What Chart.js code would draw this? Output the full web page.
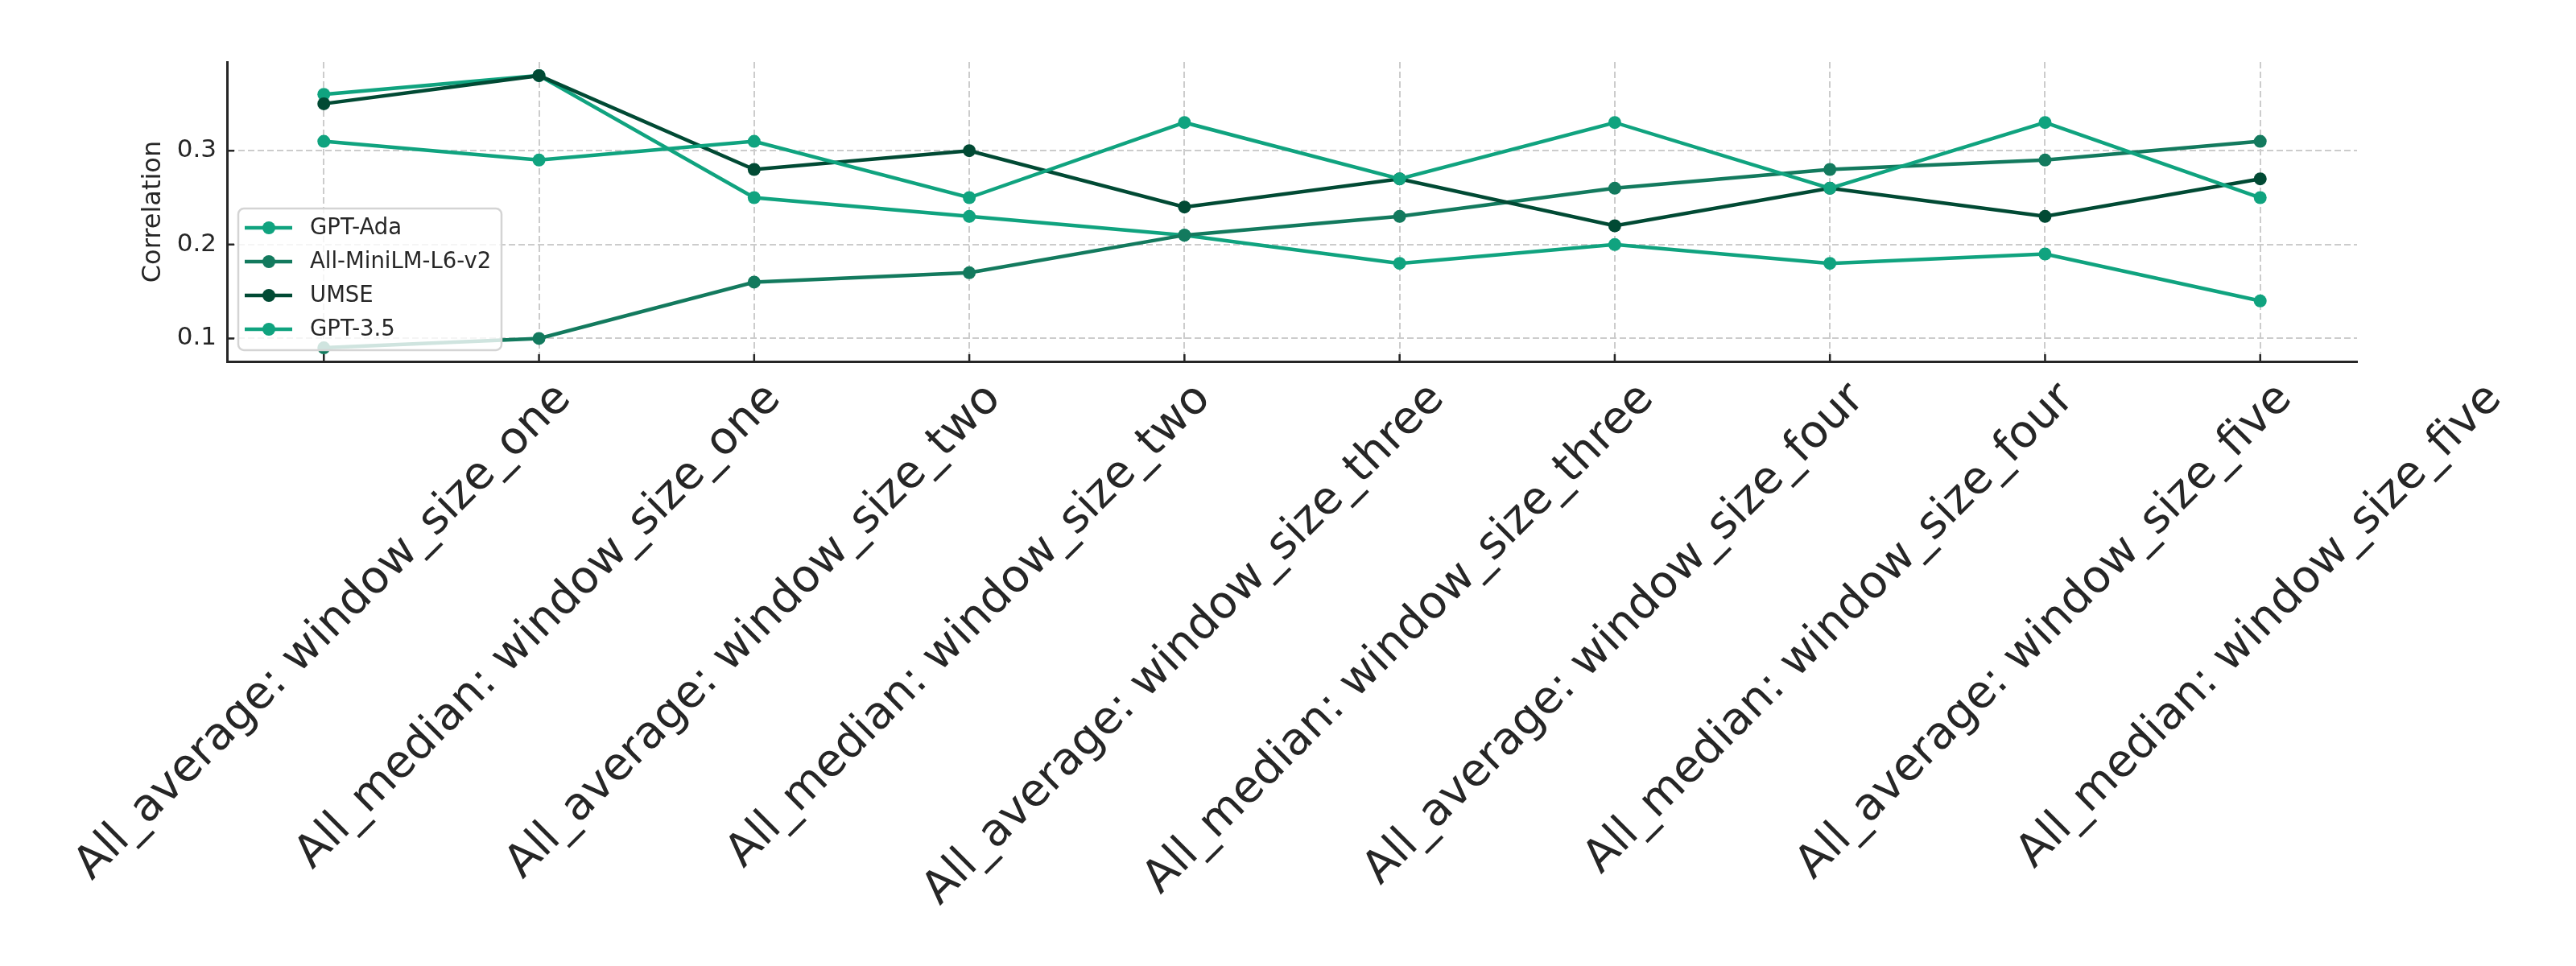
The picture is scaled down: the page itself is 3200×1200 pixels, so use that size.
<!DOCTYPE html>
<html>
<head>
<meta charset="utf-8">
<script src="https://cdn.jsdelivr.net/npm/chart.js@4.4.0/dist/chart.umd.min.js"></script>
<style>
  html, body { margin: 0; padding: 0; background: #fff; }
  #wrap { width: 3200px; height: 1200px; }
</style>
</head>
<body>
<div id="wrap"><canvas id="chart" width="3200" height="1200"></canvas></div>
<script>
const categories = [
  "All_average: window_size_one",
  "All_median: window_size_one",
  "All_average: window_size_two",
  "All_median: window_size_two",
  "All_average: window_size_three",
  "All_median: window_size_three",
  "All_average: window_size_four",
  "All_median: window_size_four",
  "All_average: window_size_five",
  "All_median: window_size_five"
];

const gptAda = [0.36, 0.38, 0.25, 0.23, 0.21, 0.18, 0.20, 0.18, 0.19, 0.14];
const miniLM = [0.09, 0.10, 0.16, 0.17, 0.21, 0.23, 0.26, 0.28, 0.29, 0.31];
const umse = [0.35, 0.38, 0.28, 0.30, 0.24, 0.27, 0.22, 0.26, 0.23, 0.27];
const gpt35 = [0.31, 0.29, 0.31, 0.25, 0.33, 0.27, 0.33, 0.26, 0.33, 0.25];

const seriesNames = ["GPT-Ada", "All-MiniLM-L6-v2", "UMSE", "GPT-3.5"];
const seriesValues = [gptAda, miniLM, umse, gpt35];
const seriesColors = ["#10a37f", "#137a5e", "#014a34", "#10a37f"];

const yTicks = [0.1, 0.2, 0.3];

const FONT = "DejaVu Sans";
const TEXT = "#262626";
const XLABEL_SIZE = 56;

// matplotlib-ish extras: centred 45deg x labels, inward ticks, legend box
const overlay = {
  id: "overlay",
  afterDraw(chart) {
    const ctx = chart.ctx;
    const area = chart.chartArea;
    const xs = chart.scales.x;
    const ys = chart.scales.y;

    // x tick labels, centred on the tick, top aligned below the axis
    ctx.save();
    ctx.font = `${XLABEL_SIZE}px "${FONT}"`;
    ctx.fillStyle = TEXT;
    ctx.textAlign = "center";
    ctx.textBaseline = "middle";
    categories.forEach((label, i) => {
      const w = ctx.measureText(label).width;
      const half = (w + XLABEL_SIZE * 0.6) / Math.SQRT2 / 2;
      ctx.save();
      ctx.translate(xs.getPixelForValue(i), area.bottom + 26 + half);
      ctx.rotate(-Math.PI / 4);
      ctx.fillText(label, 0, 0);
      ctx.restore();
    });
    ctx.restore();

    // inward tick marks
    ctx.save();
    ctx.strokeStyle = TEXT;
    ctx.lineWidth = 2.5;
    ctx.beginPath();
    categories.forEach((c, i) => {
      const x = xs.getPixelForValue(i);
      ctx.moveTo(x, area.bottom);
      ctx.lineTo(x, area.bottom - 9);
    });
    yTicks.forEach((v) => {
      const y = ys.getPixelForValue(v);
      ctx.moveTo(area.left, y);
      ctx.lineTo(area.left + 9, y);
    });
    ctx.stroke();
    ctx.restore();

    // legend
    const bx = area.left + 14;
    const by = area.top + 182;
    ctx.save();
    ctx.fillStyle = "rgba(255,255,255,0.8)";
    ctx.strokeStyle = "#d4d4d4";
    ctx.lineWidth = 2.5;
    ctx.beginPath();
    ctx.roundRect(bx, by, 327, 176, 7);
    ctx.fill();
    ctx.stroke();
    ctx.font = `27.5px "${FONT}"`;
    ctx.textBaseline = "middle";
    ctx.textAlign = "left";
    chart.data.datasets.forEach((ds, k) => {
      const y = by + 24 + k * 42;
      ctx.strokeStyle = ds.borderColor;
      ctx.lineWidth = 4.5;
      ctx.beginPath();
      ctx.moveTo(bx + 8, y);
      ctx.lineTo(bx + 67, y);
      ctx.stroke();
      ctx.fillStyle = ds.borderColor;
      ctx.beginPath();
      ctx.arc(bx + 38, y, 8, 0, Math.PI * 2);
      ctx.fill();
      ctx.fillStyle = TEXT;
      ctx.fillText(ds.label, bx + 89, y + 1);
    });
    ctx.restore();
  }
};

const gridOpts = { color: "#cccccc", lineWidth: 2, drawTicks: false };
const borderOpts = { display: true, color: TEXT, width: 3, dash: [8, 4] };

new Chart(document.getElementById("chart").getContext("2d"), {
  type: "line",
  data: {
    datasets: seriesValues.map((vals, k) => ({
      label: seriesNames[k],
      data: vals.map((v, i) => ({ x: i, y: v })),
      borderColor: seriesColors[k],
      backgroundColor: seriesColors[k],
      pointBackgroundColor: seriesColors[k],
      borderWidth: 4.5,
      pointRadius: 8,
      pointHoverRadius: 8,
      pointBorderWidth: 0,
      tension: 0,
      fill: false,
      order: seriesValues.length - k // later series on top, like the original
    }))
  },
  options: {
    responsive: false,
    animation: false,
    devicePixelRatio: 1,
    layout: { padding: { left: 167, top: 77, right: 272, bottom: 0 } },
    plugins: { legend: { display: false }, tooltip: { enabled: false } },
    scales: {
      x: {
        type: "linear",
        min: -0.45,
        max: 9.45,
        afterBuildTicks: (s) => { s.ticks = categories.map((c, i) => ({ value: i })); },
        afterFit: (s) => { s.height = 1200 - 449; },
        ticks: { display: false },
        grid: gridOpts,
        border: borderOpts
      },
      y: {
        min: 0.0755,
        max: 0.3945,
        afterBuildTicks: (s) => { s.ticks = yTicks.map((v) => ({ value: v })); },
        afterFit: (s) => { s.width = 282 - 167; },
        ticks: {
          padding: 13,
          color: TEXT,
          font: { family: FONT, size: 31 },
          callback: (v) => v.toFixed(1)
        },
        grid: gridOpts,
        border: borderOpts,
        title: {
          display: true,
          text: "Correlation",
          color: TEXT,
          font: { family: FONT, size: 32 },
          padding: { top: 4, bottom: 4 }
        }
      }
    }
  },
  plugins: [overlay]
});
</script>
</body>
</html>
